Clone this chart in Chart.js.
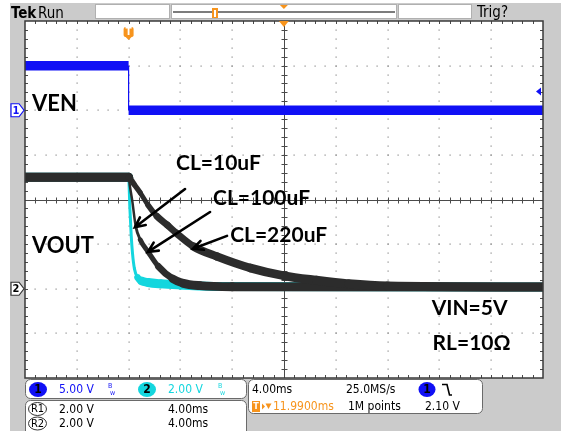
<!DOCTYPE html>
<html>
<head>
<meta charset="utf-8">
<script src="https://cdn.jsdelivr.net/npm/chart.js@4.4.0/dist/chart.umd.min.js"></script>
<style>
  html, body { margin: 0; padding: 0; background: #ffffff; }
  #wrap { position: relative; width: 561px; height: 431px; }
  canvas { display: block; }
</style>
</head>
<body>
<div id="wrap"><canvas id="scope" width="561" height="431"></canvas></div>
<script>
// ---------- scope settings ----------
const timePerDiv = 4;          // ms / div
const timeRange = [-8, 32];    // ms, trigger at 0
const ch1Range = [-30, 10];    // V, 5 V/div, ground 2 div above centre
const ch2Range = [-4, 12];     // V, 2 V/div, ground 2 div below centre
const ch1PerDiv = 5;
const ch2PerDiv = 2;
const horizontalDelay = 11.99; // ms
const triggerLevel = 2.10;     // V on ch1

// ---------- traces ----------
const venTime  = [-8, 0, 0, 32];
const venVolts = [5.0, 5.0, 0.0, 0.0];

const cl10Time  = [-8, 0, 0.1, 0.2, 0.3, 0.45, 0.7, 1.0, 1.5, 2.5, 4.0, 7.0, 32];
const cl10Volts = [5.0, 5.0, 3.6, 2.4, 1.6, 0.9, 0.5, 0.35, 0.28, 0.22, 0.17, 0.1, 0.08];

const cl100Time  = [-8, 0, 0.1, 0.28, 0.55, 0.9, 1.5, 2.3, 3.4, 4.2, 5.5, 8, 32];
const cl100Volts = [5.0, 5.0, 4.6, 3.95, 2.8, 2.2, 1.66, 1.0, 0.45, 0.25, 0.14, 0.09, 0.08];

const cl220Time  = [-8, 0, 0.4, 0.9, 1.5, 2.2, 3.0, 3.7, 5.0, 6.8, 9.4, 12.0, 14.5, 17.0, 20.0, 32];
const cl220Volts = [5.0, 5.0, 4.7, 4.3, 3.75, 3.24, 2.85, 2.49, 1.90, 1.45, 0.93, 0.58, 0.38, 0.22, 0.12, 0.08];

// ---------- annotations (ch2 coordinates: ms, V) ----------
const noteTexts = ['VEN', 'VOUT', 'CL=10uF', 'CL=100uF', 'CL=220uF', 'VIN=5V', 'RL=10Ω'];
const noteTimes = [-7.46, -7.46, 3.66, 6.52, 7.84, 23.4, 23.47];
const noteVolts = [7.97, 1.60, 5.33, 3.77, 2.11, -1.17, -2.73];
const noteSizes = [22, 22, 21, 21, 21, 21, 21];

const arrowFromTimes = [4.36, 6.29, 7.6];
const arrowFromVolts = [4.47, 3.44, 2.37];
const arrowToTimes   = [0.49, 1.49, 4.97];
const arrowToVolts   = [2.76, 1.65, 1.79];

// ---------- helpers ----------
const zip = (t, v) => t.map((x, i) => ({ x, y: v[i] }));
function bandWidth(h, min) {
  return ctx => {
    const dx = ctx.p1.x - ctx.p0.x, dy = ctx.p1.y - ctx.p0.y;
    const len = Math.hypot(dx, dy) || 1;
    return Math.max(min, h * Math.abs(dx) / len);
  };
}
function rr(ctx, x, y, w, h, r) {
  ctx.beginPath();
  ctx.moveTo(x + r, y);
  ctx.arcTo(x + w, y, x + w, y + h, r);
  ctx.arcTo(x + w, y + h, x, y + h, r);
  ctx.arcTo(x, y + h, x, y, r);
  ctx.arcTo(x, y, x + w, y, r);
  ctx.closePath();
}
const GRAY = '#cbcbcb';
const UI = '"DejaVu Sans Condensed", "Liberation Sans Narrow", sans-serif';
const NARROW = '"Liberation Sans Narrow", "DejaVu Sans Condensed", sans-serif';
const BLUE = '#1010f5';
const CYAN = '#14d6de';
const ORANGE = '#f7941d';
const TRACE = '#2c2c2c';

// ---------- chrome plugin ----------
const chrome = {
  id: 'chrome',
  beforeDraw(chart) {
    const ctx = chart.ctx, ca = chart.chartArea;
    const W = chart.width, H = chart.height;
    ctx.save();
    ctx.fillStyle = '#ffffff'; ctx.fillRect(0, 0, W, H);
    ctx.fillStyle = GRAY; ctx.fillRect(10, 3, W - 10, H - 3);

    // top bar
    ctx.fillStyle = '#000';
    ctx.textBaseline = 'alphabetic';
    ctx.font = 'bold 15px ' + NARROW; ctx.fillText('Tek', 11, 18);
    ctx.font = '15px ' + NARROW; ctx.fillText('Run', 38, 18);
    ctx.fillText('Trig?', 477, 17);
    ctx.fillStyle = '#ffffff';
    ctx.strokeStyle = '#b0b0b0'; ctx.lineWidth = 1;
    [[95, 75], [171, 226], [398, 74]].forEach(([x, w]) => {
      ctx.fillRect(x, 4, w, 15); ctx.strokeRect(x + 0.5, 4.5, w - 1, 14);
    });
    ctx.strokeStyle = '#505050'; ctx.lineWidth = 1.5;
    ctx.beginPath(); ctx.moveTo(173, 12); ctx.lineTo(395, 12); ctx.stroke();
    const xs = chart.scales.x;
    const xc = xs.getPixelForValue(horizontalDelay);
    ctx.fillStyle = ORANGE;
    ctx.beginPath(); ctx.moveTo(xc - 4, 5); ctx.lineTo(xc + 4, 5); ctx.lineTo(xc, 9); ctx.closePath(); ctx.fill();
    ctx.fillRect(212, 8, 6, 10);
    ctx.fillStyle = '#fff'; ctx.fillRect(214, 10, 2, 7);

    // plot area
    ctx.fillStyle = '#ffffff';
    ctx.fillRect(ca.left, ca.top, ca.right - ca.left, ca.bottom - ca.top);

    // bottom panels
    ctx.lineWidth = 1; ctx.strokeStyle = '#6a6a6a';
    rr(ctx, 25.5, 379.5, 221, 19, 5); ctx.fillStyle = '#fff'; ctx.fill(); ctx.stroke();
    rr(ctx, 25.5, 400.5, 221, 40, 5); ctx.fill(); ctx.stroke();
    rr(ctx, 248.5, 379.5, 234, 34, 5); ctx.fill(); ctx.stroke();

    ctx.textBaseline = 'middle';
    ctx.font = '12px ' + UI;
    // channel 1
    ctx.fillStyle = BLUE;
    ctx.beginPath(); ctx.ellipse(38, 389.5, 9, 7.5, 0, 0, Math.PI * 2); ctx.fill();
    ctx.fillStyle = '#000'; ctx.textAlign = 'center'; ctx.font = 'bold 12px ' + UI;
    ctx.fillText('1', 38, 390);
    ctx.textAlign = 'left'; ctx.font = '12px ' + UI;
    ctx.fillStyle = BLUE; ctx.fillText('5.00 V', 59, 390);
    ctx.font = '7px ' + UI; ctx.fillText('B', 108, 386); ctx.fillText('w', 110, 393);
    // channel 2
    ctx.fillStyle = CYAN;
    ctx.beginPath(); ctx.ellipse(147, 389.5, 9, 7.5, 0, 0, Math.PI * 2); ctx.fill();
    ctx.fillStyle = '#000'; ctx.textAlign = 'center'; ctx.font = 'bold 12px ' + UI;
    ctx.fillText('2', 147, 390);
    ctx.textAlign = 'left'; ctx.font = '12px ' + UI;
    ctx.fillStyle = CYAN; ctx.fillText('2.00 V', 168, 390);
    ctx.font = '7px ' + UI; ctx.fillText('B', 218, 386); ctx.fillText('w', 220, 393);
    // references
    ctx.strokeStyle = '#333'; ctx.lineWidth = 1;
    [[409, 'R1'], [423.5, 'R2']].forEach(([y, t]) => {
      ctx.beginPath(); ctx.ellipse(37.5, y, 9, 6.5, 0, 0, Math.PI * 2); ctx.stroke();
      ctx.fillStyle = '#000'; ctx.textAlign = 'center'; ctx.font = '11px ' + UI;
      ctx.fillText(t, 37.5, y + 0.5);
      ctx.textAlign = 'left'; ctx.font = '12px ' + UI;
      ctx.fillText('2.00 V', 59, y + 0.5);
      ctx.fillText('4.00ms', 168, y + 0.5);
    });
    // horizontal / trigger
    ctx.fillStyle = '#000'; ctx.font = '12px ' + UI;
    ctx.fillText('4.00ms', 252, 390);
    ctx.fillText('25.0MS/s', 346, 390);
    ctx.fillText('1M points', 348, 407);
    ctx.fillText('2.10 V', 425, 407);
    ctx.fillStyle = BLUE;
    ctx.beginPath(); ctx.ellipse(427, 389.5, 8.5, 7.5, 0, 0, Math.PI * 2); ctx.fill();
    ctx.fillStyle = '#000'; ctx.textAlign = 'center'; ctx.font = 'bold 12px ' + UI;
    ctx.fillText('1', 427, 390);
    ctx.textAlign = 'left';
    ctx.strokeStyle = '#000'; ctx.lineWidth = 1.6;
    ctx.beginPath(); ctx.moveTo(442, 384.5); ctx.lineTo(447, 384.5); ctx.lineTo(449.5, 395); ctx.lineTo(452, 395); ctx.stroke();
    ctx.fillStyle = ORANGE; ctx.fillRect(252, 401, 8, 11);
    ctx.fillStyle = '#fff'; ctx.font = 'bold 9px ' + UI; ctx.textAlign = 'center';
    ctx.fillText('T', 256, 407);
    ctx.textAlign = 'left';
    ctx.fillStyle = ORANGE; ctx.font = '12px ' + UI;
    ctx.beginPath(); ctx.moveTo(262, 403.5); ctx.lineTo(265, 406.5); ctx.lineTo(262, 409.5); ctx.closePath(); ctx.fill();
    ctx.beginPath(); ctx.moveTo(265.5, 403.5); ctx.lineTo(271.5, 403.5); ctx.lineTo(268.5, 409); ctx.closePath(); ctx.fill();
    ctx.fillText('11.9900ms', 273, 407);
    ctx.restore();
  },
  beforeDatasetsDraw(chart) {
    const ctx = chart.ctx, ca = chart.chartArea;
    const xs = chart.scales.x, ys = chart.scales.yCh2;
    const nx = Math.round((timeRange[1] - timeRange[0]) / timePerDiv);
    const ny = Math.round((ch2Range[1] - ch2Range[0]) / ch2PerDiv);
    const vx = k => xs.getPixelForValue(timeRange[0] + k * timePerDiv);
    const vy = k => ys.getPixelForValue(ch2Range[1] - k * ch2PerDiv);
    ctx.save();
    // dotted graticule
    ctx.fillStyle = '#8a8a8a';
    for (let i = 1; i < nx; i++) {
      if (i === nx / 2) continue;
      for (let j = 1; j < ny * 5; j++) {
        const y = vy(j / 5);
        ctx.fillRect(Math.round(vx(i)) - 0.5, Math.round(y) - 0.5, 1.2, 1.2);
      }
    }
    for (let j = 1; j < ny; j++) {
      if (j === ny / 2) continue;
      for (let i = 1; i < nx * 5; i++) {
        const x = vx(i / 5);
        ctx.fillRect(Math.round(x) - 0.5, Math.round(vy(j)) - 0.5, 1.2, 1.2);
      }
    }
    // centre cross
    ctx.strokeStyle = '#4a4a4a'; ctx.lineWidth = 1;
    const cx = Math.round(vx(nx / 2)) + 0.5, cy = Math.round(vy(ny / 2)) + 0.5;
    ctx.beginPath();
    ctx.moveTo(cx, ca.top); ctx.lineTo(cx, ca.bottom);
    ctx.moveTo(ca.left, cy); ctx.lineTo(ca.right, cy);
    for (let j = 1; j < ny * 5; j++) { const y = Math.round(vy(j / 5)) + 0.5; ctx.moveTo(cx - 3, y); ctx.lineTo(cx + 3, y); }
    for (let i = 1; i < nx * 5; i++) { const x = Math.round(vx(i / 5)) + 0.5; ctx.moveTo(x, cy - 3); ctx.lineTo(x, cy + 3); }
    // border ticks
    for (let j = 1; j < ny * 5; j++) {
      const y = Math.round(vy(j / 5)) + 0.5;
      ctx.moveTo(ca.left, y); ctx.lineTo(ca.left + 3, y);
      ctx.moveTo(ca.right, y); ctx.lineTo(ca.right - 3, y);
    }
    for (let i = 1; i < nx * 5; i++) {
      const x = Math.round(vx(i / 5)) + 0.5;
      ctx.moveTo(x, ca.top); ctx.lineTo(x, ca.top + 3);
      ctx.moveTo(x, ca.bottom); ctx.lineTo(x, ca.bottom - 3);
    }
    ctx.stroke();
    ctx.restore();
  },
  afterDatasetsDraw(chart) {
    const ctx = chart.ctx, ca = chart.chartArea;
    const xs = chart.scales.x, y1 = chart.scales.yCh1, y2 = chart.scales.yCh2;
    ctx.save();
    // border
    ctx.strokeStyle = '#3a3a3a'; ctx.lineWidth = 1.5;
    ctx.strokeRect(ca.left, ca.top, ca.right - ca.left, ca.bottom - ca.top);
    // trigger position marker
    const tx = xs.getPixelForValue(0);
    ctx.fillStyle = ORANGE;
    rr(ctx, tx - 5, 27, 10, 10, 2); ctx.fill();
    ctx.beginPath(); ctx.moveTo(tx - 5, 35); ctx.lineTo(tx + 5, 35); ctx.lineTo(tx, 40); ctx.closePath(); ctx.fill();
    ctx.fillStyle = '#fff'; ctx.font = 'bold 10px ' + UI; ctx.textAlign = 'center'; ctx.textBaseline = 'middle';
    ctx.fillText('T', tx, 32.5);
    // centre expansion marker
    const xc = xs.getPixelForValue(horizontalDelay);
    ctx.fillStyle = ORANGE;
    ctx.beginPath(); ctx.moveTo(xc - 5, ca.top); ctx.lineTo(xc + 5, ca.top); ctx.lineTo(xc, ca.top + 6); ctx.closePath(); ctx.fill();
    // trigger level marker
    const ty = y1.getPixelForValue(triggerLevel);
    ctx.fillStyle = BLUE;
    ctx.beginPath(); ctx.moveTo(ca.right - 7, ty); ctx.lineTo(ca.right - 2, ty - 4); ctx.lineTo(ca.right - 2, ty + 4); ctx.closePath(); ctx.fill();
    // channel ground markers
    const marker = (y, label, stroke, color) => {
      ctx.beginPath();
      ctx.moveTo(11, y - 6.5); ctx.lineTo(19, y - 6.5); ctx.lineTo(24, y); ctx.lineTo(19, y + 6.5); ctx.lineTo(11, y + 6.5); ctx.closePath();
      ctx.fillStyle = '#fff'; ctx.fill();
      ctx.strokeStyle = stroke; ctx.lineWidth = 1.2; ctx.stroke();
      ctx.fillStyle = color; ctx.font = 'bold 11px ' + UI; ctx.textAlign = 'center'; ctx.textBaseline = 'middle';
      ctx.fillText(label, 16, y + 0.5);
    };
    marker(y1.getPixelForValue(0), '1', BLUE, BLUE);
    marker(y2.getPixelForValue(0), '2', '#333', '#000');
    // annotation arrows
    ctx.strokeStyle = '#000'; ctx.lineWidth = 2.6; ctx.lineCap = 'round';
    arrowFromTimes.forEach((t, i) => {
      const x0 = xs.getPixelForValue(t), yy0 = y2.getPixelForValue(arrowFromVolts[i]);
      const x1 = xs.getPixelForValue(arrowToTimes[i]), yy1 = y2.getPixelForValue(arrowToVolts[i]);
      const a = Math.atan2(yy1 - yy0, x1 - x0), L = 11, s = 0.45;
      ctx.beginPath();
      ctx.moveTo(x0, yy0); ctx.lineTo(x1, yy1);
      ctx.moveTo(x1 - L * Math.cos(a - s), yy1 - L * Math.sin(a - s)); ctx.lineTo(x1, yy1);
      ctx.lineTo(x1 - L * Math.cos(a + s), yy1 - L * Math.sin(a + s));
      ctx.stroke();
    });
    // annotation text
    ctx.fillStyle = '#000'; ctx.textAlign = 'left'; ctx.textBaseline = 'alphabetic';
    noteTexts.forEach((txt, i) => {
      ctx.font = 'bold ' + noteSizes[i] + 'px Lato, "Open Sans", sans-serif';
      ctx.fillText(txt, xs.getPixelForValue(noteTimes[i]), y2.getPixelForValue(noteVolts[i]));
    });
    ctx.restore();
  }
};

new Chart(document.getElementById('scope'), {
  type: 'line',
  data: {
    datasets: [
      { label: 'CL=220uF', data: zip(cl220Time, cl220Volts), yAxisID: 'yCh2',
        borderColor: TRACE, borderWidth: 9, cubicInterpolationMode: 'monotone',
        borderCapStyle: 'round', segment: { borderWidth: bandWidth(9, 2.5) } },
      { label: 'CL=100uF', data: zip(cl100Time, cl100Volts), yAxisID: 'yCh2',
        borderColor: TRACE, borderWidth: 9, cubicInterpolationMode: 'monotone',
        borderCapStyle: 'round', segment: { borderWidth: bandWidth(9, 2.5) } },
      { label: 'CL=10uF', data: zip(cl10Time, cl10Volts), yAxisID: 'yCh2',
        borderColor: CYAN, borderWidth: 9, cubicInterpolationMode: 'monotone',
        borderCapStyle: 'round', segment: { borderWidth: bandWidth(9, 3) } },
      { label: 'VEN', data: zip(venTime, venVolts), yAxisID: 'yCh1',
        borderColor: BLUE, borderWidth: 9, tension: 0,
        borderCapStyle: 'butt', segment: { borderWidth: bandWidth(9.5, 1.2) } }
    ]
  },
  options: {
    responsive: false,
    animation: false,
    devicePixelRatio: 1,
    layout: { padding: { left: 25, top: 21, right: 18, bottom: 53 } },
    elements: { point: { radius: 0, hoverRadius: 0 } },
    plugins: { legend: { display: false }, tooltip: { enabled: false } },
    events: [],
    scales: {
      x: { type: 'linear', min: timeRange[0], max: timeRange[1], display: false },
      yCh1: { type: 'linear', min: ch1Range[0], max: ch1Range[1], display: false },
      yCh2: { type: 'linear', min: ch2Range[0], max: ch2Range[1], display: false }
    }
  },
  plugins: [chrome]
});
</script>
</body>
</html>
